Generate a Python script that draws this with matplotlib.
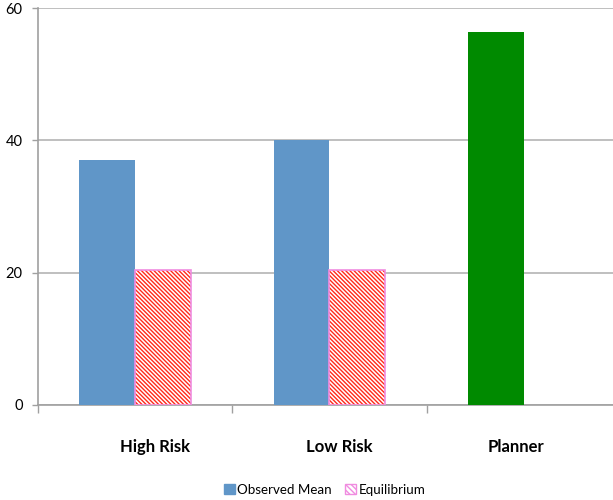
import matplotlib.pyplot as plt
from matplotlib.patches import Patch
import numpy as np

plt.rcParams['font.family'] = ['Lato', 'DejaVu Sans']

categories = ['High Risk', 'Low Risk', 'Planner']
label_shift = [0.10, 0.05, -0.04]
observed = [37.0, 40.0, 56.3]
equilibrium = [20.4, 20.4, None]
obs_colors = ['#6096c8', '#6096c8', '#008a00']

blue = '#6096c8'
hatch_red = '#ff2a1a'
pink = '#f08ce0'

fig = plt.figure(figsize=(6.13, 5.0), dpi=100)
ax = fig.add_axes([0.062, 0.19, 0.951, 0.794])

x = np.arange(len(categories))
w = 0.288

ax.bar(x - w / 2, observed, width=w, color=obs_colors, zorder=3)

eq_x = [xi + w / 2 for xi, v in zip(x, equilibrium) if v is not None]
eq_v = [v for v in equilibrium if v is not None]
plt.rcParams['hatch.linewidth'] = 1.0
ax.bar(eq_x, eq_v, width=w, color='white', edgecolor=hatch_red,
       hatch='\\' * 8, linewidth=0, zorder=3)
ax.bar(eq_x, eq_v, width=w, fill=False, edgecolor=pink, linewidth=1.2, zorder=4)

ax.set_xlim(-0.5, 2.5)
ax.set_ylim(0, 60)
ax.set_yticks([0, 20, 40, 60])
ax.yaxis.grid(True, color='#b4b4b4', linewidth=1.2)
ax.set_axisbelow(True)

ax.set_xticks([-0.5, 0.5, 1.5])
ax.set_xticklabels([])
ax.tick_params(axis='x', direction='out', length=6, color='#a0a0a0', width=1)
ax.tick_params(axis='y', direction='out', length=4, color='#a0a0a0', width=1,
               labelsize=10.5, pad=7)

for s in ['top', 'right']:
    ax.spines[s].set_visible(False)
for s in ['left', 'bottom']:
    ax.spines[s].set_color('#a0a0a0')
    ax.spines[s].set_linewidth(1.2)

for xi, dx, lab in zip(x, label_shift, categories):
    ax.text(xi + dx, -6.4, lab, ha='center', va='center', fontsize=12,
            fontweight='bold', clip_on=False)

handles = [Patch(facecolor=blue, edgecolor=blue, label='Observed Mean'),
           Patch(facecolor='white', edgecolor=hatch_red, hatch='\\' * 6,
                 label='Equilibrium')]
leg = fig.legend(handles=handles, loc='center', bbox_to_anchor=(0.53, 0.02),
                 ncol=2, frameon=False, fontsize=9.6, handlelength=0.8,
                 handleheight=0.8, handletextpad=0.2, columnspacing=1.0)
leg.get_patches()[1].set_edgecolor(pink)

plt.savefig('out.png', dpi=100)
